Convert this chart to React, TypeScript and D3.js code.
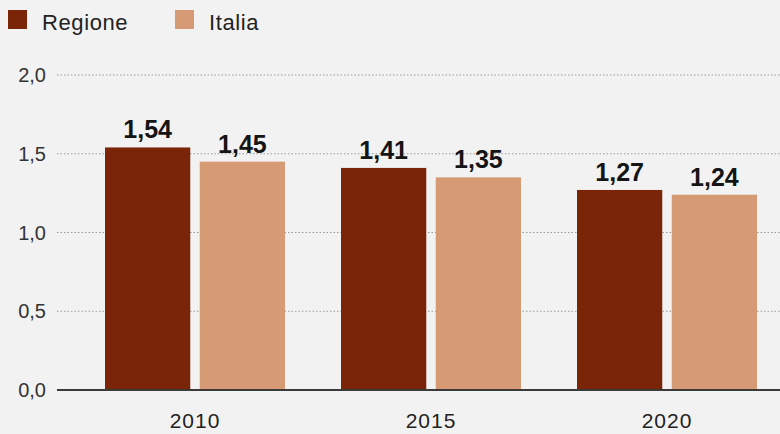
import React from "react";
import * as d3 from "d3";

const categories = ["2010", "2015", "2020"];
const seriesNames = ["Regione", "Italia"];
const regioneValues = [1.54, 1.41, 1.27];
const italiaValues = [1.45, 1.35, 1.24];
const yTicks = [0, 0.5, 1.0, 1.5, 2.0];
const colors = ["#7a2508", "#d69b74"];

const W = 780;
const H = 434;
const fmt = (v: number, d: number) => v.toFixed(d).replace(".", ",");

export default function App() {
  const y = d3.scaleLinear().domain([0, 2]).range([390, 75]);
  const x0 = d3.scaleBand<string>().domain(categories).range([77, 785]).padding(0);
  const x1 = d3
    .scaleBand<string>()
    .domain(seriesNames)
    .range([28, x0.bandwidth() - 28])
    .paddingInner(0.1)
    .paddingOuter(0);
  const values = [regioneValues, italiaValues];
  const font = "'Liberation Sans', Arial, Helvetica, sans-serif";

  return (
    <div style={{ position: "fixed", left: 0, top: 0 }}>
      <svg width={W} height={H} style={{ display: "block", fontFamily: font }}>
        <rect x={0} y={0} width={W} height={H} fill="#f2f2f2" />
        {/* legend */}
        {seriesNames.map((s, i) => {
          const lx = i === 0 ? 8 : 175;
          return (
            <g key={s}>
              <rect x={lx} y={10} width={19} height={19} fill={colors[i]} />
              <text x={lx + 34} y={30} fontSize={22} fill="#222" letterSpacing={0.6}>
                {s}
              </text>
            </g>
          );
        })}
        {/* grid */}
        {yTicks.map((t) => (
          <g key={t}>
            {t > 0 && (
              <line
                x1={57}
                x2={W}
                y1={y(t)}
                y2={y(t)}
                stroke="#9a9a9a"
                strokeWidth={1}
                strokeDasharray="1.5,2"
              />
            )}
            <text x={46} y={y(t) + 7} fontSize={20} fill="#333" textAnchor="end">
              {fmt(t, 1)}
            </text>
          </g>
        ))}
        {/* bars */}
        {categories.map((c, ci) => (
          <g key={c} transform={`translate(${x0(c)},0)`}>
            {seriesNames.map((s, si) => {
              const v = values[si][ci];
              const bx = x1(s)!;
              return (
                <g key={s}>
                  <rect
                    x={bx}
                    y={y(v)}
                    width={x1.bandwidth()}
                    height={y(0) - y(v)}
                    fill={colors[si]}
                  />
                  <text
                    x={bx + x1.bandwidth() / 2}
                    y={y(v) - 9}
                    textAnchor="middle"
                    fontSize={25}
                    fontWeight="bold"
                    fill="#151515"
                  >
                    {fmt(v, 2)}
                  </text>
                </g>
              );
            })}
            <text
              x={x0.bandwidth() / 2}
              y={428}
              textAnchor="middle"
              fontSize={21}
              fill="#222"
              letterSpacing={1}
            >
              {c}
            </text>
          </g>
        ))}
        <line x1={57} x2={W} y1={y(0)} y2={y(0)} stroke="#3a3a3a" strokeWidth={2} />
      </svg>
    </div>
  );
}
